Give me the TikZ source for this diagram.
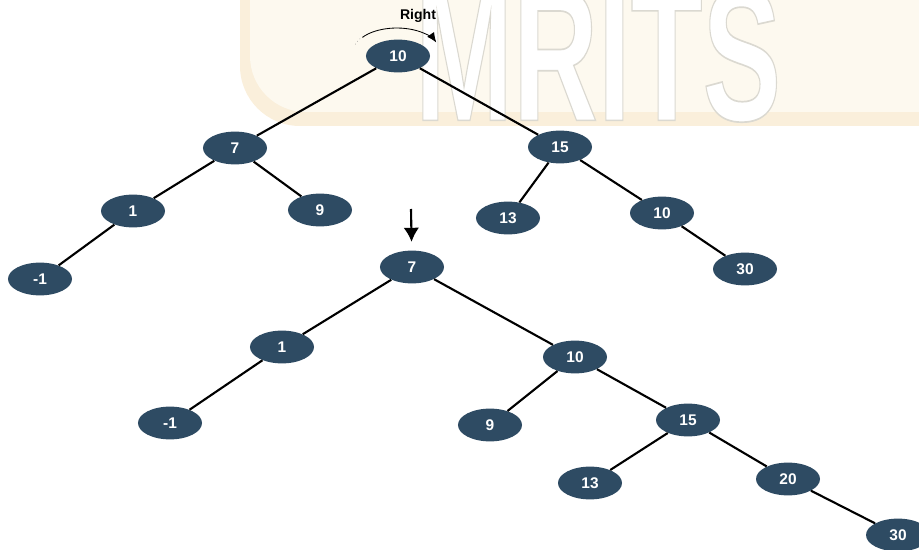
\documentclass[tikz,border=0pt]{standalone}
\usepackage{fontspec}
\setmainfont{Liberation Sans}
\usepackage{tikz}
\usetikzlibrary{shapes,arrows.meta,positioning}
\definecolor{nodeblue}{RGB}{46,75,99}
\definecolor{wmband}{RGB}{253,249,239}
\definecolor{wmedge}{RGB}{250,239,219}
\newcommand{\outlined}[1]{\special{pdf:code 2 Tr 1.2 w 0.86 0.85 0.82 RG}#1\special{pdf:code 0 Tr}}

\begin{document}
\begin{tikzpicture}[
    x=0.025cm, y=-0.025cm,
    tnode/.style={ellipse, fill=nodeblue, minimum width=1.6cm, minimum height=0.82cm, inner sep=0pt, text=white, font=\fontsize{11}{13}\selectfont\bfseries},
    edge/.style={line width=1.5pt, black},
    arrow/.style={-{Latex[length=10pt,width=11pt]}, line width=1.5pt}
]
    \useasboundingbox (0,0) rectangle (919,550);

    % watermark
    \fill[wmedge, rounded corners=1.5cm] (240,-60) rectangle (980,126);
    \fill[wmband, rounded corners=1.4cm] (250,-60) rectangle (980,112);
    \node[text=white, font=\fontsize{135}{135}\selectfont\bfseries, xscale=0.62, inner sep=0pt] (wm) at (598,55) {\outlined{MRITS}};

    % tree before rotation
    \node[tnode] (a10) at (398, 56) {10};
    \node[tnode] (a7) at (235, 148) {7};
    \node[tnode] (a15) at (560, 147) {15};
    \node[tnode] (a1) at (133, 211) {1};
    \node[tnode] (a9) at (320, 210) {9};
    \node[tnode] (a13) at (508, 218) {13};
    \node[tnode] (a10r) at (662, 213) {10};
    \node[tnode] (a30) at (745, 269) {30};
    \node[tnode] (am1) at (40, 279) {-1};

    \draw[edge] (a10) -- (a7);
    \draw[edge] (a10) -- (a15);
    \draw[edge] (a7) -- (a1);
    \draw[edge] (a7) -- (a9);
    \draw[edge] (a1) -- (am1);
    \draw[edge] (a15) -- (a13);
    \draw[edge] (a15) -- (a10r);
    \draw[edge] (a10r) -- (a30);

    % rotation mark
    \node[font=\fontsize{10}{12}\selectfont\bfseries] (rlabel) at (418, 16) {Right};
    \coordinate (rotS) at (355.4, 44.3);
    \coordinate (rotM) at (362.4, 37.4);
    \draw[thin, dotted, gray] (rotS) arc[start angle=195, end angle=215, x radius=42, y radius=22];
    \draw[-{Latex[length=7pt,width=6pt]}, semithick] (rotM) arc[start angle=215, end angle=340, x radius=42, y radius=22];

    % tree after rotation
    \node[tnode] (b7) at (412, 267) {7};
    \node[tnode] (b1) at (282, 347) {1};
    \node[tnode] (bm1) at (170, 423) {-1};
    \node[tnode] (b10) at (575, 357) {10};
    \node[tnode] (b9) at (490, 425) {9};
    \node[tnode] (b15) at (688, 420) {15};
    \node[tnode] (b13) at (590, 483) {13};
    \node[tnode] (b20) at (788, 479) {20};
    \node[tnode] (b30) at (898, 535) {30};

    \coordinate (down) at (411, 209);
    \draw[arrow, shorten >=6pt] (down) -- (b7);

    \draw[edge] (b7) -- (b1);
    \draw[edge] (b7) -- (b10);
    \draw[edge] (b1) -- (bm1);
    \draw[edge] (b10) -- (b9);
    \draw[edge] (b10) -- (b15);
    \draw[edge] (b15) -- (b13);
    \draw[edge] (b15) -- (b20);
    \draw[edge] (b20) -- (b30);
\end{tikzpicture}
\end{document}
